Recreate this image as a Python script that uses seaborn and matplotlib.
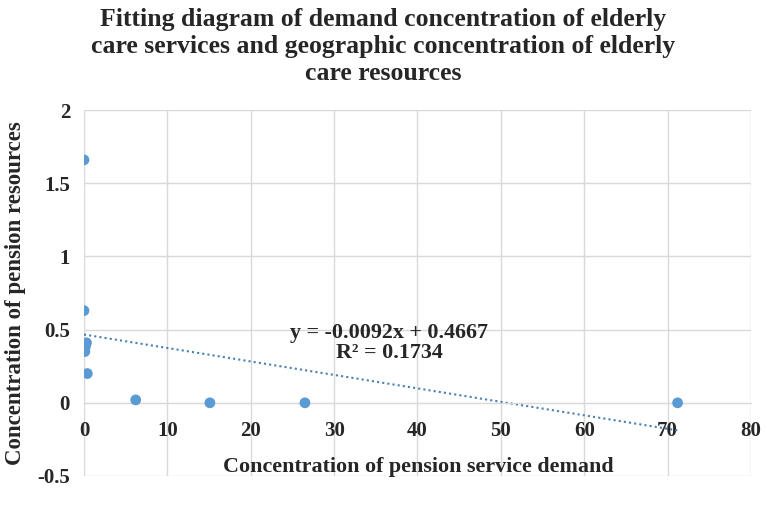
import matplotlib

matplotlib.use("Agg")
import matplotlib.pyplot as plt
import numpy as np
import pandas as pd
import seaborn as sns

# values
demand = [0.0, 0.0, 0.3, 0.2, 0.1, 0.1, 0.4, 6.2, 15.1, 26.5, 71.2]
resources = [1.66, 0.63, 0.41, 0.39, 0.37, 0.35, 0.20, 0.02, 0.0, 0.0, 0.0]
slope = -0.0092
intercept = 0.4667
r_squared = 0.1734
x_ticks = [0, 10, 20, 30, 40, 50, 60, 70, 80]
y_ticks = [-0.5, 0, 0.5, 1, 1.5, 2]
y_tick_labels = ["-0.5", "0", "0.5", "1", "1.5", "2"]

df = pd.DataFrame({"demand": demand, "resources": resources})

sns.set_style("white")
plt.rcParams["font.family"] = ["Liberation Serif", "DejaVu Serif"]

fig = plt.figure(figsize=(7.67, 5.11), dpi=100)
ax = fig.add_axes([0.1095, 0.0685, 0.8696, 0.716])

# linear trendline across the data range
xs = np.array([min(demand), max(demand)])
ax.plot(xs, slope * xs + intercept, color="#4a7fb0", linestyle=(0, (1, 1.5)),
        linewidth=1.5, zorder=2)

sns.scatterplot(data=df, x="demand", y="resources", ax=ax, color="#5b9bd5",
                s=60, edgecolor="none", zorder=3)

# axis crosses at y = 0 like the spreadsheet chart
for side in ["top", "right", "left"]:
    ax.spines[side].set_visible(False)
ax.spines["bottom"].set_position(("data", 0))
ax.spines["bottom"].set_color("#d9d9d9")

ax.set_xlim(0, 80)
ax.set_ylim(-0.5, 2)
ax.set_xticks(x_ticks)
ax.set_yticks(y_ticks)
ax.set_xticklabels([str(t) for t in x_ticks], fontsize=15, fontweight="bold")
ax.set_yticklabels(y_tick_labels, fontsize=15, fontweight="bold")
ax.grid(True, color="#d9d9d9", linewidth=1)
ax.set_axisbelow(True)
ax.tick_params(axis="x", length=0, pad=13)
ax.tick_params(axis="y", length=0, pad=10)

ax.set_xlabel("")
ax.set_ylabel("Concentration of pension resources", fontsize=16.5,
              fontweight="bold", labelpad=8)
fig.text(0.545, 0.086, "Concentration of pension service demand", ha="center",
         va="center", fontsize=15.8, fontweight="bold")

ax.text(36.6, 0.41, "y = %.4fx + %.4f\nR² = %.4f" % (slope, intercept, r_squared),
        ha="center", va="center", fontsize=15.8, fontweight="bold", linespacing=1.0)

fig.text(0.5, 0.985, "Fitting diagram of demand concentration of elderly\n"
         "care services and geographic concentration of elderly\ncare resources",
         ha="center", va="top", fontsize=18.5, fontweight="bold", linespacing=1.24)

fig.savefig("out.png", dpi=100)
